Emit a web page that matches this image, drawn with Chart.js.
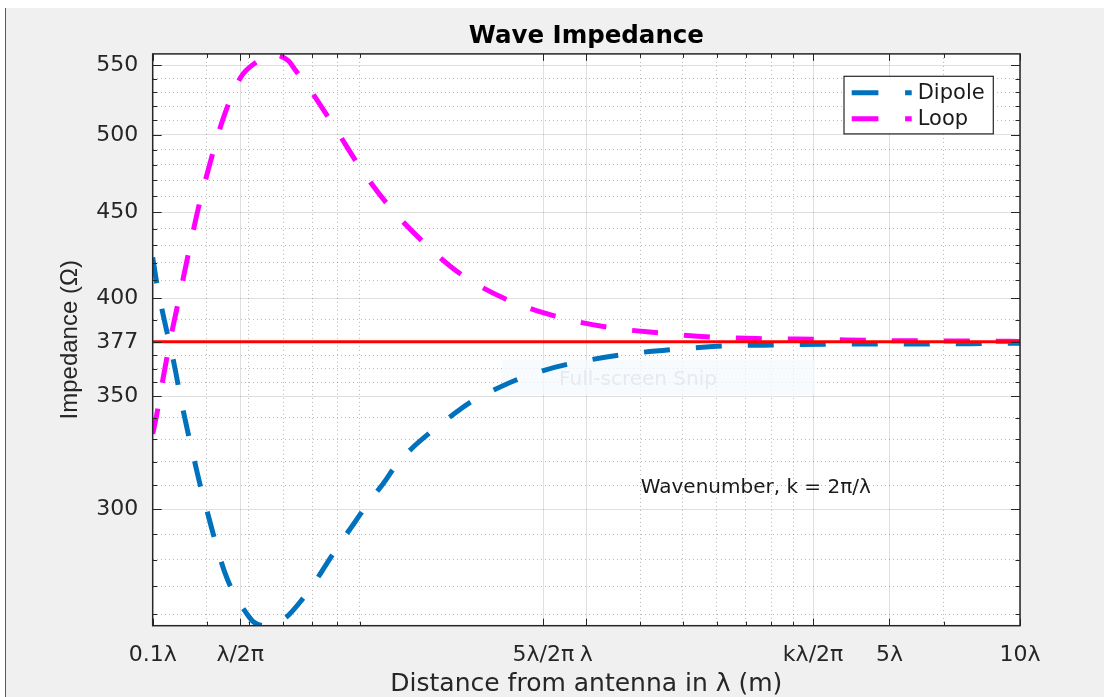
<!DOCTYPE html>
<html>
<head>
<meta charset="utf-8">
<script src="https://cdn.jsdelivr.net/npm/chart.js@4.4.0/dist/chart.umd.min.js"></script>
<style>
html,body{margin:0;padding:0;background:#ffffff;overflow:hidden;}
canvas{display:block;}
</style>
</head>
<body>
<canvas id="c" width="1104" height="697"></canvas>
<script>
// ---- data ----
const dipoleX = [0.1, 0.1024, 0.1049, 0.1080, 0.1109, 0.1133, 0.1158, 0.1187, 0.1217, 0.1250, 0.1285, 0.1326, 0.1368, 0.1411, 0.1462, 0.1534, 0.1640, 0.1706, 0.1825, 0.1932, 0.2030, 0.2205, 0.2377, 0.2541, 0.2729, 0.2928, 0.3142, 0.3402, 0.3620, 0.3941, 0.4400, 0.4873, 0.5414, 0.6116, 0.6946, 0.7922, 0.9072, 1.1988, 1.5843, 2.0994, 2.7889, 3.700, 4.909, 6.505, 8.650, 10];
const dipoleY = [423.0, 407.2, 394.8, 381.6, 370.5, 360.5, 349.6, 339.4, 329.6, 320.0, 310.5, 301.2, 292.2, 284.1, 275.8, 267.8, 260.6, 257.3, 255.9, 257.0, 258.8, 265.0, 272.1, 279.5, 287.3, 294.8, 302.7, 310.7, 317.9, 325.6, 333.7, 340.6, 347.3, 353.0, 358.2, 362.4, 365.7, 370.3, 373.1, 374.9, 375.4, 375.8, 375.9, 375.9, 376.2, 376.3];
const loopX = [0.1, 0.1021, 0.1053, 0.1101, 0.1156, 0.1214, 0.1277, 0.1356, 0.1451, 0.1596, 0.1740, 0.1864, 0.2053, 0.2137, 0.2315, 0.2647, 0.3034, 0.3526, 0.4190, 0.5120, 0.6493, 0.8431, 1.1111, 1.4712, 1.9524, 2.5960, 3.4448, 4.5743, 6.0703, 8.0581, 10];
const loopY = [332.5, 341.0, 356.9, 379.4, 402.5, 427.5, 453.5, 481.1, 510.6, 541.0, 552.6, 558.0, 553.4, 545.9, 531.1, 503.8, 476.7, 453.0, 432.4, 413.7, 399.8, 390.6, 384.7, 381.6, 379.4, 378.6, 378.3, 377.7, 377.5, 377.4, 377.2];
const refX = [0.1, 10];
const refY = [377, 377];

const seriesNames = ['Dipole', 'Loop'];
const xTickValues = [0.1, 0.1592, 0.7958, 1, 3.333, 5, 10];
const xTickLabels = ['0.1\u03bb', '\u03bb/2\u03c0', '5\u03bb/2\u03c0', '\u03bb', 'k\u03bb/2\u03c0', '5\u03bb', '10\u03bb'];
const xMinorValues = [0.1333, 0.1667, 0.2, 0.2333, 0.2667, 0.3, 1.333, 1.667, 2, 2.333, 2.667, 3, 6.667];
const yTickValues = [300, 350, 377, 400, 450, 500, 550];
const yMinorValues = [260, 270, 280, 290, 310, 320, 330, 340, 356.75, 363.5, 370.25, 388.5, 410, 420, 430, 440, 460, 470, 480, 490, 510, 520, 530, 540];
const xRange = [0.1, 10];
const yRange = [255.9, 558.5];
const noteText = 'Wavenumber, k = 2\u03c0/\u03bb';
const notePos = {x: 1.335, y: 308.7};

// ---- styles ----
const FONT = "'DejaVu Sans'";
const AX = '#262626';
const colors = {dipole: '#0072bd', loop: '#ff00ff', ref: '#ff0000'};

const pts = (xs, ys) => xs.map((x, i) => ({x: x, y: ys[i]}));

const framePlugin = {
  id: 'frame',
  beforeDraw(chart) {
    const {ctx, chartArea: a, width, height} = chart;
    ctx.save();
    ctx.fillStyle = '#f0f0f0';
    ctx.fillRect(0, 0, width, height);
    ctx.fillStyle = '#ffffff';
    ctx.fillRect(0, 0, width, 8);
    ctx.fillRect(0, 0, 5, height);
    ctx.fillStyle = '#5a5a5a';
    ctx.fillRect(5, 8, 1, height - 8);
    ctx.fillStyle = '#ffffff';
    ctx.fillRect(a.left, a.top, a.right - a.left, a.bottom - a.top);
    ctx.restore();
  },
  beforeDatasetsDraw(chart) {
    const {ctx} = chart;
    ctx.save();
    ctx.fillStyle = 'rgba(246,249,254,0.75)';
    ctx.fillRect(502, 360, 313, 35);
    ctx.font = '20px ' + FONT;
    ctx.fillStyle = '#e6e9ee';
    ctx.textAlign = 'center';
    ctx.textBaseline = 'middle';
    ctx.fillText('Full-screen Snip', 638, 380);
    ctx.restore();
  },
  afterDraw(chart) {
    const {ctx, chartArea: a} = chart;
    const xs = chart.scales.x, ys = chart.scales.y;
    ctx.save();
    ctx.strokeStyle = AX;
    ctx.lineWidth = 1;
    const seg = (x1, y1, x2, y2) => { ctx.beginPath(); ctx.moveTo(x1, y1); ctx.lineTo(x2, y2); ctx.stroke(); };
    const vt = (v, len) => {
      const p = Math.round(xs.getPixelForValue(v)) + 0.5;
      seg(p, a.bottom, p, a.bottom - len);
      seg(p, a.top, p, a.top + len);
    };
    const ht = (v, len) => {
      const p = Math.round(ys.getPixelForValue(v)) + 0.5;
      seg(a.left, p, a.left + len, p);
      seg(a.right, p, a.right - len, p);
    };
    xTickValues.forEach(v => vt(v, 7));
    xMinorValues.forEach(v => vt(v, 4));
    yTickValues.forEach(v => ht(v, 9));
    yMinorValues.forEach(v => ht(v, 4.5));
    // axes box
    ctx.lineWidth = 1.5;
    ctx.strokeRect(a.left, a.top, a.right - a.left, a.bottom - a.top);

    // legend
    const lx = a.right - 176, ly = a.top + 22.4, lw = 149.3, lh = 57.6;
    ctx.fillStyle = '#ffffff';
    ctx.fillRect(lx, ly, lw, lh);
    ctx.lineWidth = 1.2;
    ctx.strokeStyle = AX;
    ctx.strokeRect(lx, ly, lw, lh);
    const legendColors = [colors.dipole, colors.loop];
    seriesNames.forEach((name, i) => {
      const yy = ly + 16.5 + i * 26;
      ctx.save();
      ctx.strokeStyle = legendColors[i];
      ctx.lineWidth = 5;
      ctx.setLineDash([26.7, 26.7]);
      seg(lx + 7.7, yy, lx + 67.7, yy);
      ctx.restore();
      ctx.fillStyle = '#1a1a1a';
      ctx.font = '21px ' + FONT;
      ctx.textAlign = 'left';
      ctx.textBaseline = 'middle';
      ctx.fillText(name, lx + 73.7, yy + 1);
    });

    // annotation
    ctx.fillStyle = '#1a1a1a';
    ctx.font = '20px ' + FONT;
    ctx.textAlign = 'left';
    ctx.textBaseline = 'middle';
    ctx.fillText(noteText, xs.getPixelForValue(notePos.x), ys.getPixelForValue(notePos.y));
    ctx.restore();
  }
};

const lineDs = (label, xs, ys, color, width, dash, order) => ({
  label: label,
  data: pts(xs, ys),
  borderColor: color,
  backgroundColor: color,
  borderWidth: width,
  borderDash: dash,
  pointRadius: 0,
  fill: false,
  cubicInterpolationMode: 'monotone',
  order: order
});

new Chart(document.getElementById('c'), {
  type: 'line',
  data: {
    datasets: [
      lineDs('377', refX, refY, colors.ref, 3, [], 0),
      lineDs(seriesNames[1], loopX, loopY, colors.loop, 5, [26, 26], 1),
      lineDs(seriesNames[0], dipoleX, dipoleY, colors.dipole, 5, [26, 26], 2)
    ]
  },
  options: {
    responsive: false,
    animation: false,
    events: [],
    layout: {padding: {left: 0, right: 84, top: 0, bottom: 0}},
    plugins: {
      legend: {display: false},
      tooltip: {enabled: false},
      title: {
        display: true,
        text: 'Wave Impedance',
        fullSize: false,
        color: '#000000',
        font: {family: FONT, size: 24.5, weight: 'bold', lineHeight: 1.2},
        padding: {top: 22, bottom: 2.5}
      }
    },
    scales: {
      x: {
        type: 'logarithmic',
        position: 'bottom',
        min: xRange[0], max: xRange[1],
        bounds: 'data',
        afterBuildTicks: s => { s.ticks = xTickValues.map(v => ({value: v})); },
        afterFit: s => { s.height = 71.3; },
        ticks: {
          autoSkip: false, maxRotation: 0, minRotation: 0,
          padding: 16, color: AX,
          font: {family: FONT, size: 22},
          callback: (v, i) => xTickLabels[i]
        },
        grid: {color: 'rgba(38,38,38,0.15)', lineWidth: 1, drawTicks: false},
        border: {display: false},
        title: {
          display: true,
          text: 'Distance from antenna in \u03bb (m)',
          color: AX,
          font: {family: FONT, size: 25, lineHeight: 1},
          padding: {top: 0, bottom: 0}
        }
      },
      xMinor: {
        type: 'logarithmic',
        position: 'bottom',
        min: xRange[0], max: xRange[1],
        bounds: 'data',
        afterBuildTicks: s => { s.ticks = xMinorValues.map(v => ({value: v})); },
        afterFit: s => { s.height = 0; },
        ticks: {display: false},
        grid: {color: 'rgba(38,38,38,0.32)', lineWidth: 1, drawTicks: false},
        border: {display: false, dash: [1, 3]}
      },
      y: {
        type: 'logarithmic',
        position: 'left',
        min: yRange[0], max: yRange[1],
        bounds: 'data',
        afterBuildTicks: s => { s.ticks = yTickValues.map(v => ({value: v})); },
        afterFit: s => { s.width = 152.7; },
        ticks: {
          autoSkip: false, padding: 14.4, color: AX,
          font: {family: FONT, size: 22},
          callback: v => String(v)
        },
        grid: {color: 'rgba(38,38,38,0.15)', lineWidth: 1, drawTicks: false},
        border: {display: false},
        title: {
          display: true,
          text: 'Impedance (\u03a9)',
          color: AX,
          font: {family: "'Liberation Sans'", size: 24, lineHeight: 1.2},
          padding: {top: 56.1, bottom: 0}
        }
      },
      yMinor: {
        type: 'logarithmic',
        position: 'left',
        min: yRange[0], max: yRange[1],
        bounds: 'data',
        afterBuildTicks: s => { s.ticks = yMinorValues.map(v => ({value: v})); },
        afterFit: s => { s.width = 0; },
        ticks: {display: false},
        grid: {color: 'rgba(38,38,38,0.32)', lineWidth: 1, drawTicks: false},
        border: {display: false, dash: [1, 3]}
      }
    }
  },
  plugins: [framePlugin]
});
</script>
</body>
</html>
